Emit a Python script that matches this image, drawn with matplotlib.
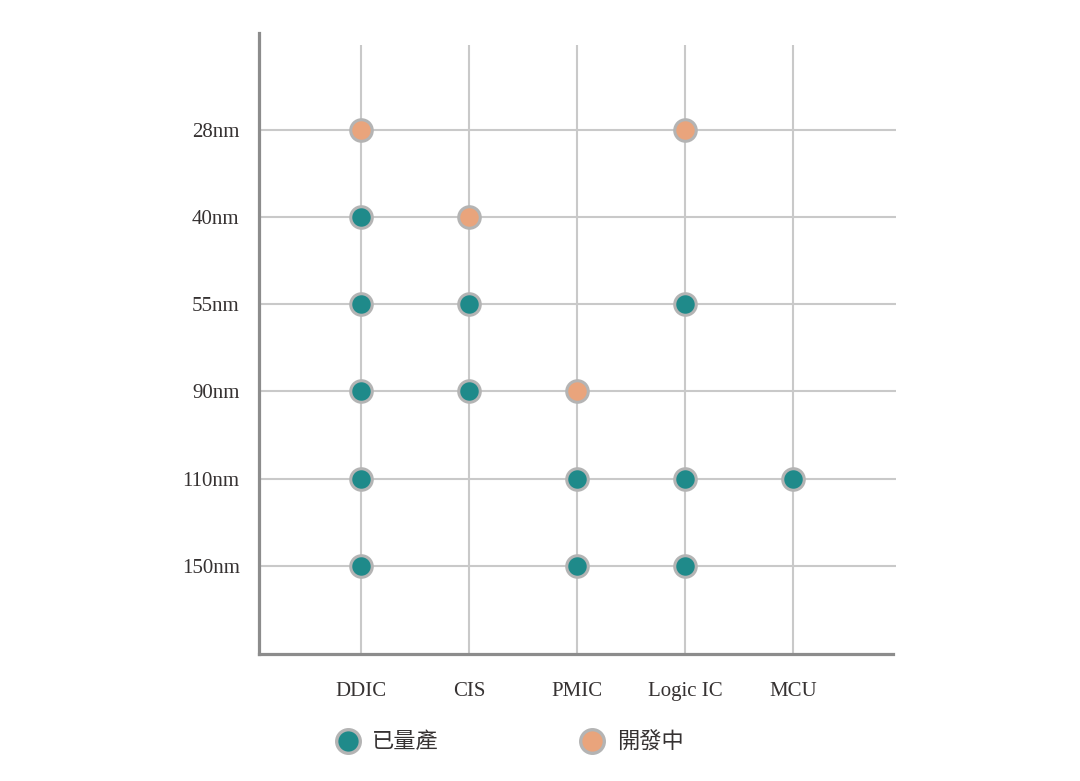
import matplotlib.pyplot as plt
from matplotlib.lines import Line2D

# data
categories = ['DDIC', 'CIS', 'PMIC', 'Logic IC', 'MCU']
nodes      = ['150nm', '110nm', '90nm', '55nm', '40nm', '28nm']

# (category, node) pairs
in_production = [('DDIC', '40nm'), ('DDIC', '55nm'), ('DDIC', '90nm'),
                 ('DDIC', '110nm'), ('DDIC', '150nm'),
                 ('CIS', '55nm'), ('CIS', '90nm'),
                 ('PMIC', '110nm'), ('PMIC', '150nm'),
                 ('Logic IC', '55nm'), ('Logic IC', '110nm'), ('Logic IC', '150nm'),
                 ('MCU', '110nm')]
in_development = [('DDIC', '28nm'), ('CIS', '40nm'),
                  ('PMIC', '90nm'), ('Logic IC', '28nm')]

legend_labels = ['已量產', '開發中']

# style
TEAL   = '#1f8a8a'
ORANGE = '#e9a47c'
EDGE   = '#b4b4b4'
GRID   = '#c9c9c9'
SPINE  = '#8c8c8c'
TEXT   = '#363232'
SERIF  = ['Liberation Serif', 'DejaVu Serif']
CJK    = ['Noto Sans CJK TC', 'DejaVu Sans']

fig = plt.figure(figsize=(10.8, 7.81), dpi=100, facecolor='white')
ax = fig.add_axes([259 / 1080, 1 - 654 / 781, (893 - 259) / 1080, (654 - 33) / 781])

x_of = {c: i for i, c in enumerate(categories)}
y_of = {n: i for i, n in enumerate(nodes)}

ax.set_xlim(-0.944, 4.926)
ax.set_ylim(-1.01, 6.11)

# grid
ax.vlines(range(len(categories)), -1.01, 5.97, color=GRID, lw=1.5, zorder=1)
ax.hlines(range(len(nodes)), -0.944, 4.95, color=GRID, lw=1.5, zorder=1,
          clip_on=False)

def scatter(pairs, color):
    xs = [x_of[c] for c, n in pairs]
    ys = [y_of[n] for c, n in pairs]
    ax.plot(xs, ys, 'o', ms=15.5, mfc=color, mec=EDGE, mew=2.2,
            ls='none', zorder=3)

scatter(in_production, TEAL)
scatter(in_development, ORANGE)

for side in ['top', 'right']:
    ax.spines[side].set_visible(False)
for side in ['left', 'bottom']:
    ax.spines[side].set_color(SPINE)
    ax.spines[side].set_linewidth(2.3)

ax.set_xticks(range(len(categories)))
ax.set_xticklabels(categories, family=SERIF, fontsize=15, color=TEXT)
ax.set_yticks(range(len(nodes)))
ax.set_yticklabels(nodes, family=SERIF, fontsize=15, color=TEXT)
ax.tick_params(axis='x', length=0, pad=20.5)
ax.tick_params(axis='y', length=0, pad=14)

handles = [Line2D([], [], marker='o', ls='none', ms=17, mfc=TEAL, mec=EDGE, mew=2.4),
           Line2D([], [], marker='o', ls='none', ms=17, mfc=ORANGE, mec=EDGE, mew=2.4)]
fig.legend(handles, legend_labels, loc='center', ncol=2, frameon=False,
           bbox_to_anchor=(510 / 1080, 1 - 742 / 781), columnspacing=6.4,
           handlelength=1.0, handletextpad=0.6,
           prop={'family': CJK, 'size': 16}, labelcolor=TEXT)

fig.savefig('out.png', dpi=100, facecolor='white')
